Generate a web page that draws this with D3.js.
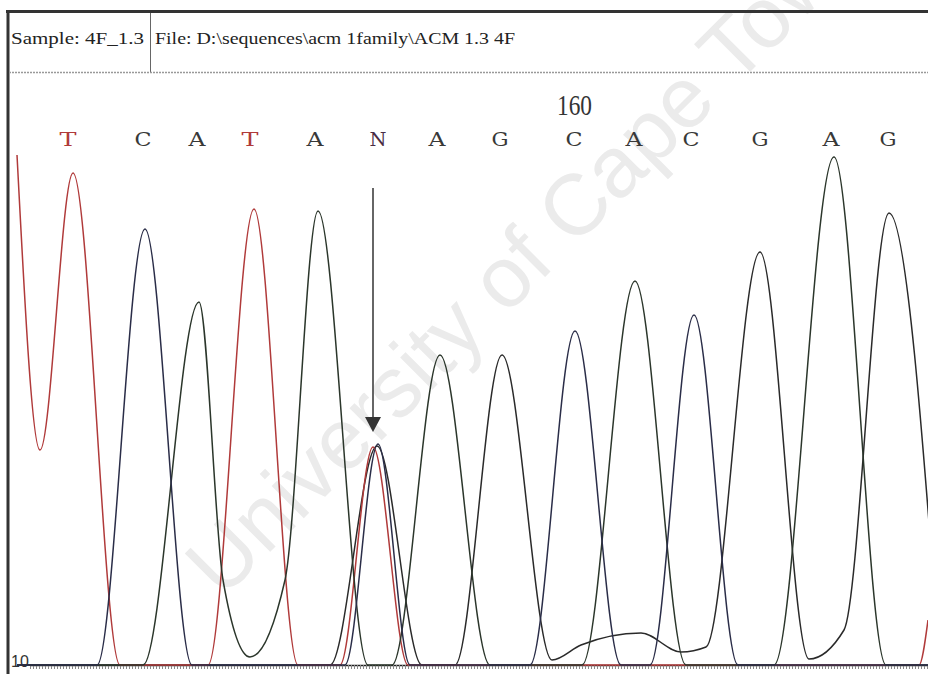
<!DOCTYPE html>
<html>
<head>
<meta charset="utf-8">
<script src="https://cdn.jsdelivr.net/npm/d3@7"></script>
<style>
  body { margin: 0; background: #fff; }
</style>
</head>
<body>
<div id="chart"></div>
<script>
const bases = ["T", "C", "A", "T", "A", "N", "A", "G", "C", "A", "C", "G", "A", "G"];
const basePos = [1852, 1867, 1877.8, 1888.4, 1901.4, 1914, 1925.8, 1938.4, 1953.2, 1965.2, 1976.6, 1990.4, 2004.6, 2016];
const firstBaseNumber = 152;
const markedBaseNumber = 160;

// Vértices de cada canal (scan, intensidad)
const traceG = [[1841.8, 0], [1904.4, 0], [1913.8, 438], [1922.8, 0], [1929.4, 0], [1938.8, 620], [1948.8, 10],
  [1954.6, 40], [1966.6, 64], [1974.6, 26], [1979.6, 36], [1990.4, 826], [2000.2, 12], [2007.2, 70],
  [2016.2, 904], [2026.4, 0]];
const traceT = [[1841.8, 1020], [1846.4, 430], [1853, 984], [1862.4, 0], [1880, 0], [1889.2, 912], [1898, 0],
  [1906.4, 0], [1913, 436], [1920, 0], [2022.2, 0], [2024, 90]];
const traceA = [[1841.8, 0], [1867, 0], [1878.2, 726], [1883, 170], [1888.4, 16], [1895.4, 170], [1902, 908],
  [1912, 0], [1916.8, 0], [1926.4, 620], [1936.4, 0], [1954.8, 0], [1965.4, 768], [1975.6, 0], [1993.2, 0],
  [2005.2, 1016], [2015.6, 0], [2024, 0]];
const traceC = [[1841.8, 0], [1857.8, 0], [1867.4, 872], [1876.8, 0], [1907.4, 0], [1914, 442], [1920.4, 0],
  [1944.4, 0], [1953.4, 668], [1962.6, 0], [1968.4, 0], [1977.2, 700], [1986, 0], [2024, 0]];

const sampleLabel = "Sample: 4F_1.3";
const fileLabel = "File: D:\\sequences\\acm 1family\\ACM 1.3 4F";
const watermark = "University of Cape Town";

// Lienzo
const width = 928;
const height = 674;
const plot = { left: 8, right: 928, top: 73, baseline: 665 };

const svg = d3.select("#chart").append("svg")
    .attr("width", width)
    .attr("height", height)
    .attr("viewBox", [0, 0, width, height])
    .style("display", "block")
    .style("background", "#fff");

const x = d3.scaleLinear([1840, 2024], [plot.left, plot.right]);
const y = d3.scaleLinear([0, 1100], [plot.baseline, 115]);

// Marca de agua
svg.append("text")
    .attr("transform", "translate(222,600) rotate(-45)")
    .attr("font-family", "Liberation Sans, Arial, sans-serif")
    .attr("font-size", 86)
    .attr("fill", "#ebebeb")
    .text(watermark);

// Cabecera
const head = svg.append("g");
head.append("line").attr("x1", 6).attr("x2", 928).attr("y1", 11.5).attr("y2", 11.5)
    .attr("stroke", "#333").attr("stroke-width", 3);
head.append("line").attr("x1", 8).attr("x2", 8).attr("y1", 10).attr("y2", 674)
    .attr("stroke", "#333").attr("stroke-width", 3);
head.append("line").attr("x1", 150.5).attr("x2", 150.5).attr("y1", 13).attr("y2", 72)
    .attr("stroke", "#666").attr("stroke-width", 1);
head.append("line").attr("x1", 9).attr("x2", 928).attr("y1", 72.5).attr("y2", 72.5)
    .attr("stroke", "#999").attr("stroke-width", 1.5).attr("stroke-dasharray", "2,1");
head.append("text").attr("x", 11).attr("y", 44)
    .attr("font-family", "Liberation Serif, serif").attr("font-size", 17).attr("fill", "#222")
    .attr("textLength", 133).attr("lengthAdjust", "spacingAndGlyphs")
    .text(sampleLabel);
head.append("text").attr("x", 155).attr("y", 44)
    .attr("font-family", "Liberation Serif, serif").attr("font-size", 17).attr("fill", "#222")
    .attr("textLength", 360).attr("lengthAdjust", "spacingAndGlyphs")
    .text(fileLabel);

// Bases llamadas
const baseColor = { T: "#b03a3a", N: "#4a2c44" };
svg.append("g")
    .attr("font-family", "DejaVu Serif, serif")
    .attr("font-size", 18)
  .selectAll("text")
  .data(bases)
  .join("text")
    .attr("x", (d, i) => x(basePos[i]) - 8.5)
    .attr("y", 146)
    .attr("textLength", 17)
    .attr("lengthAdjust", "spacingAndGlyphs")
    .attr("fill", d => baseColor[d] || "#383838")
    .text(d => d);

const markIndex = markedBaseNumber - firstBaseNumber;
svg.append("text")
    .attr("x", x(basePos[markIndex]) - 17)
    .attr("y", 115)
    .attr("font-family", "Liberation Serif, serif")
    .attr("font-size", 30)
    .attr("fill", "#333")
    .attr("textLength", 35)
    .attr("lengthAdjust", "spacingAndGlyphs")
    .text(markedBaseNumber);

// Eje inferior: línea base y regla de scans
const xRuler = x.copy().domain([1844.4, 2024]).range([x(1844.4), x(2024)]);
svg.append("g")
    .attr("transform", `translate(0,${plot.baseline})`)
    .call(d3.axisBottom(xRuler).tickValues(d3.range(1844.4, 2024, 0.6)).tickSize(4).tickSizeOuter(0).tickFormat(""))
    .call(g => g.select(".domain").attr("stroke", "#222").attr("stroke-width", 1.5))
    .call(g => g.selectAll(".tick line").attr("stroke", "#888"));

svg.append("text")
    .attr("x", 11)
    .attr("y", 667)
    .attr("font-family", "Liberation Sans, sans-serif")
    .attr("font-size", 16)
    .attr("fill", "#333")
    .text("10");

// Trazas
svg.append("clipPath").attr("id", "clip")
  .append("rect")
    .attr("x", plot.left + 2).attr("y", plot.top)
    .attr("width", plot.right - plot.left).attr("height", height - plot.top);

const line = d3.line()
    .x(d => x(d[0]))
    .y(d => y(d[1]))
    .curve(d3.curveMonotoneX);

const channels = [
  { data: traceG, color: "#2a2a2a" },
  { data: traceT, color: "#b03a3a" },
  { data: traceA, color: "#2b362b" },
  { data: traceC, color: "#2a2d48" }
];

svg.append("g")
    .attr("clip-path", "url(#clip)")
  .selectAll("path")
  .data(channels)
  .join("path")
    .attr("fill", "none")
    .attr("stroke", d => d.color)
    .attr("stroke-width", 1.5)
    .attr("d", d => line(d.data));

// Flecha sobre la base N
const nIndex = bases.indexOf("N");
const ax = x(basePos[nIndex]) - 5;
const arrowTop = y(954);
const arrowTip = y(466);
svg.append("line")
    .attr("x1", ax).attr("x2", ax)
    .attr("y1", arrowTop).attr("y2", arrowTip - 10)
    .attr("stroke", "#333").attr("stroke-width", 1.5);
svg.append("path")
    .attr("d", `M${ax - 8},${arrowTip - 15}L${ax + 8},${arrowTip - 15}L${ax},${arrowTip}Z`)
    .attr("fill", "#333");
</script>
</body>
</html>
